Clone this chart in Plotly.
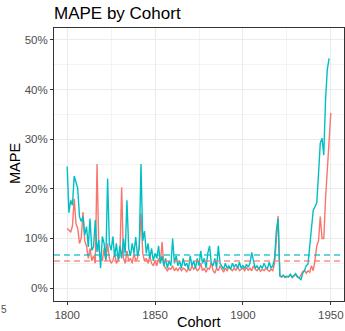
import plotly.graph_objects as go

years_red = list(range(1800, 1951))
years_cyan = list(range(1800, 1950))

mape_red = [
    12.0, 11.7, 11.3, 12.5, 18.0, 13.0, 12.0, 9.0, 10.0, 15.3,
    9.5, 8.5, 6.0, 8.0, 5.5, 6.5, 5.0, 25.0, 8.0, 6.0,
    5.5, 8.0, 5.5, 9.0, 6.0, 5.0, 5.5, 7.0, 5.0, 5.5,
    6.5, 20.3, 6.0, 5.0, 7.5, 5.5, 6.0, 5.0, 7.0, 5.5,
    6.0, 8.5, 15.0, 7.0, 5.5, 6.0, 5.0, 6.5, 5.0, 4.5,
    5.5, 4.5, 6.0, 5.0, 9.3, 4.5, 4.0, 3.5, 4.0, 3.8,
    4.5, 3.5, 4.0, 3.5, 4.2, 3.5, 4.0, 3.8, 3.3, 4.0,
    3.5, 4.5, 3.8, 4.2, 3.5, 3.8, 5.0, 3.5, 4.0, 3.2,
    4.0, 3.8, 5.2, 3.5, 3.0, 4.0, 3.5, 4.5, 3.8, 3.2,
    4.0, 3.5, 4.2, 3.8, 3.5, 4.0, 3.6, 4.3, 3.5, 3.8,
    4.0, 3.5, 4.2, 3.6, 4.0, 3.5, 4.5, 3.8, 3.5, 4.0,
    3.4, 3.8, 3.5, 4.0, 3.6, 3.4, 3.8, 3.5, 5.0, 11.0,
    14.5, 2.4, 2.2, 2.5, 2.1, 2.3, 2.2, 2.7, 2.1, 2.4,
    2.8, 2.2, 2.0, 2.6, 3.3, 3.6, 3.0, 3.5, 3.2, 4.5,
    3.5, 5.6, 8.5, 9.5, 14.4, 10.0, 10.0, 18.0, 24.0, 29.5,
    35.3,
]

mape_cyan = [
    24.5, 15.2, 17.7, 16.7, 22.6, 21.1, 20.1, 14.4, 13.4, 14.4,
    10.7, 12.4, 8.3, 14.0, 7.6, 8.3, 13.7, 7.3, 9.7, 4.0,
    10.4, 9.0, 5.6, 22.1, 9.0, 7.6, 10.4, 6.3, 9.0, 5.6,
    8.5, 6.0, 10.0, 7.0, 17.7, 8.0, 6.5, 9.0, 7.0, 10.3,
    6.5, 8.0, 25.0, 9.5, 11.5, 7.0, 9.0, 6.0, 8.0, 5.5,
    7.0, 6.0, 8.5, 5.0, 6.5, 4.5, 6.0, 4.0, 5.5, 4.5,
    10.0, 5.0, 6.5, 4.5, 5.5, 4.0, 6.0, 4.5, 5.0, 3.8,
    6.5, 4.5, 5.5, 4.0, 6.0, 4.5, 7.5, 5.0, 6.0, 4.0,
    7.0, 8.5, 5.0, 4.5, 6.0, 4.0, 8.5, 5.0, 4.5, 3.8,
    5.0, 4.0, 4.5, 3.8, 5.0, 4.2, 4.8, 4.0, 5.2, 4.0,
    4.5, 4.0, 4.8, 4.2, 5.0, 7.2, 5.5, 4.0, 4.5, 3.8,
    4.5, 4.0, 5.0, 4.2, 4.0, 5.2, 4.0, 4.5, 6.0, 11.5,
    14.0, 2.5, 2.3, 2.6, 2.2, 2.4, 2.3, 2.8, 2.2, 2.5,
    2.9, 2.3, 2.1, 1.6, 3.0, 3.5, 4.5, 4.8, 8.5, 12.0,
    15.7, 16.4, 17.2, 23.0, 29.2, 30.2, 26.8, 38.0, 44.0, 46.3,
]

mean_red = [5.44]
mean_cyan = [6.65]

x_ticks = [1800, 1850, 1900, 1950]
y_ticks = [0, 10, 20, 30, 40, 50]
y_tick_labels = ["0%", "10%", "20%", "30%", "40%", "50%"]

RED = "#F8766D"
CYAN = "#00BFC4"
FONT = "Liberation Sans, Arial, sans-serif"

fig = go.Figure()
fig.add_trace(go.Scatter(x=years_red, y=mape_red, mode="lines",
                         line=dict(color=RED, width=1.4), showlegend=False))
fig.add_trace(go.Scatter(x=years_cyan, y=mape_cyan, mode="lines",
                         line=dict(color=CYAN, width=1.4), showlegend=False))

for val, col in ((mean_red[0], RED), (mean_cyan[0], CYAN)):
    fig.add_shape(type="line", xref="paper", x0=0, x1=1, yref="y", y0=val, y1=val,
                  line=dict(color=col, width=1.5, dash="6px,4px"), opacity=0.8)

fig.update_layout(
    width=345, height=331,
    margin=dict(l=54, r=1, t=28, b=30),
    paper_bgcolor="white", plot_bgcolor="white",
    font=dict(family=FONT, color="#4d4d4d", size=11),
    title=dict(text="MAPE by Cohort", xref="container", yref="container",
               x=54 / 345, xanchor="left", y=1 - 13 / 331, yanchor="middle",
               font=dict(size=17, color="black", family=FONT)),
    xaxis=dict(
        range=[1792.5, 1957.5], tickvals=x_ticks, automargin=False,
        showgrid=True, gridcolor="#ebebeb", gridwidth=1.1,
        minor=dict(dtick=25, tick0=1800, showgrid=True, gridcolor="#f3f3f3", gridwidth=0.6),
        showline=True, linecolor="#333333", linewidth=1, mirror=True,
        ticks="outside", ticklen=3, tickcolor="#333333",
        tickfont=dict(size=11.5, color="#4d4d4d"),
        zeroline=False,
    ),
    yaxis=dict(
        range=[-2.6, 52.4], tickvals=y_ticks, ticktext=y_tick_labels, automargin=False,
        showgrid=True, gridcolor="#ebebeb", gridwidth=1.1,
        minor=dict(dtick=5, tick0=0, showgrid=True, gridcolor="#f3f3f3", gridwidth=0.6),
        showline=True, linecolor="#333333", linewidth=1, mirror=True,
        ticks="outside", ticklen=3, tickcolor="#333333",
        tickfont=dict(size=11.5, color="#4d4d4d"),
        zeroline=False,
    ),
)

# axis titles
fig.add_annotation(text="Cohort", xref="paper", yref="paper",
                   x=(199 - 54) / 290, xanchor="center", y=-(322 - 301) / 273, yanchor="middle",
                   showarrow=False, font=dict(size=14.5, color="black"))
fig.add_annotation(text="MAPE", xref="paper", yref="paper", textangle=-90,
                   x=(15 - 54) / 290, xanchor="center", y=(301 - 164) / 273, yanchor="middle",
                   showarrow=False, font=dict(size=14.5, color="black"))

fig.add_annotation(text="5", xref="paper", yref="paper",
                   x=(0 - 54) / 290, xanchor="left", xshift=-1, y=-(309 - 301) / 273, yanchor="middle",
                   showarrow=False, font=dict(size=10, color="#4d4d4d"))

fig.write_html("out.html")
